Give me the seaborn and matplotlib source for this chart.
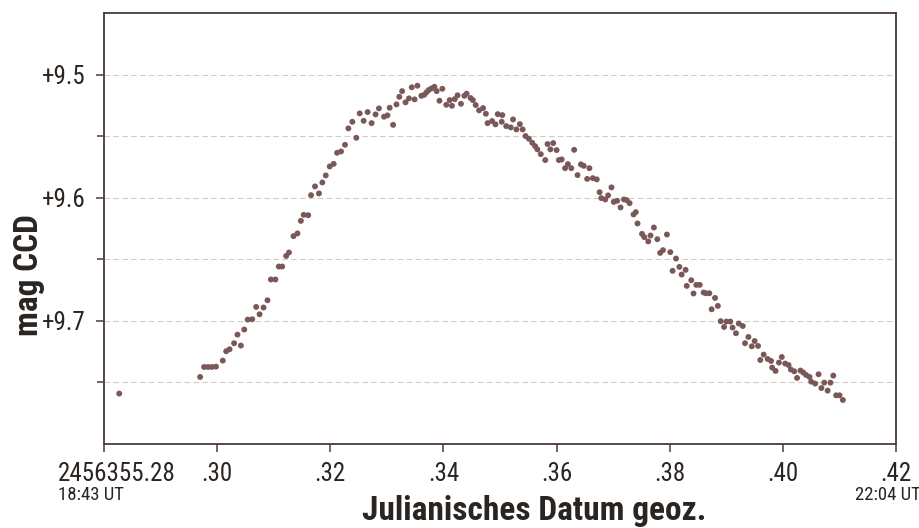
import matplotlib.pyplot as plt
import matplotlib.ticker as mticker
from matplotlib.transforms import ScaledTranslation
import pandas as pd
import seaborn as sns

sns.set_theme(style='white')
plt.rcParams['font.family'] = ['Roboto Condensed', 'Roboto', 'DejaVu Sans']

# Julian date (fraction after 2456355) and CCD magnitude
jd = [
    0.2827, 0.2970, 0.2977, 0.2984, 0.2991, 0.2998, 0.3010, 0.3016, 0.3022, 0.3030,
    0.3036, 0.3042, 0.3048, 0.3054, 0.3062, 0.3069, 0.3075, 0.3082, 0.3089, 0.3095,
    0.3103, 0.3109, 0.3115, 0.3122, 0.3127, 0.3135, 0.3142, 0.3148, 0.3153, 0.3161,
    0.3166, 0.3173, 0.3180, 0.3186, 0.3192, 0.3199, 0.3206, 0.3212, 0.3219, 0.3226,
    0.3232, 0.3239, 0.3246, 0.3252, 0.3259, 0.3266, 0.3273, 0.3280, 0.3286, 0.3295,
    0.3301, 0.3305, 0.3311, 0.3317, 0.3322, 0.3327, 0.3333, 0.3339, 0.3344, 0.3349,
    0.3354, 0.3361, 0.3366, 0.3370, 0.3374, 0.3379, 0.3384, 0.3388, 0.3393, 0.3398,
    0.3405, 0.3411, 0.3415, 0.3420, 0.3425, 0.3431, 0.3437, 0.3441, 0.3448, 0.3452,
    0.3457, 0.3463, 0.3470, 0.3475, 0.3478, 0.3486, 0.3492, 0.3496, 0.3503, 0.3504,
    0.3511, 0.3519, 0.3523, 0.3529, 0.3535, 0.3540, 0.3545, 0.3551, 0.3557, 0.3562,
    0.3566, 0.3572, 0.3580, 0.3584, 0.3589, 0.3594, 0.3600, 0.3604, 0.3609, 0.3615,
    0.3620, 0.3626, 0.3631, 0.3637, 0.3643, 0.3648, 0.3654, 0.3658, 0.3664, 0.3671,
    0.3676, 0.3679, 0.3686, 0.3691, 0.3697, 0.3701, 0.3707, 0.3713, 0.3719, 0.3724,
    0.3729, 0.3736, 0.3740, 0.3743, 0.3751, 0.3755, 0.3762, 0.3766, 0.3772, 0.3778,
    0.3783, 0.3788, 0.3795, 0.3801, 0.3805, 0.3811, 0.3817, 0.3821, 0.3828, 0.3830,
    0.3838, 0.3842, 0.3847, 0.3853, 0.3860, 0.3864, 0.3870, 0.3874, 0.3880, 0.3885,
    0.3890, 0.3896, 0.3900, 0.3907, 0.3911, 0.3917, 0.3922, 0.3929, 0.3933, 0.3939,
    0.3945, 0.3950, 0.3956, 0.3960, 0.3966, 0.3973, 0.3979, 0.3981, 0.3987, 0.3993,
    0.3998, 0.4004, 0.4010, 0.4014, 0.4020, 0.4025, 0.4031, 0.4036, 0.4041, 0.4047,
    0.4050, 0.4057, 0.4063, 0.4068, 0.4073, 0.4079, 0.4084, 0.4089, 0.4094, 0.4100,
    0.4106,
]
mag = [
    9.7590, 9.7455, 9.7374, 9.7374, 9.7374, 9.7371, 9.7322, 9.7246, 9.7230, 9.7181,
    9.7111, 9.7200, 9.7070, 9.6989, 9.6986, 9.6886, 9.6946, 9.6891, 9.6832, 9.6663,
    9.6663, 9.6558, 9.6558, 9.6472, 9.6444, 9.6311, 9.6289, 9.6187, 9.6138, 9.6141,
    9.5978, 9.5907, 9.5964, 9.5875, 9.5818, 9.5745, 9.5724, 9.5634, 9.5623, 9.5569,
    9.5436, 9.5382, 9.5512, 9.5314, 9.5374, 9.5303, 9.5393, 9.5322, 9.5273, 9.5341,
    9.5330, 9.5268, 9.5407, 9.5241, 9.5179, 9.5133, 9.5224, 9.5192, 9.5102, 9.5200,
    9.5089, 9.5171, 9.5163, 9.5143, 9.5124, 9.5111, 9.5098, 9.5133, 9.5211, 9.5114,
    9.5244, 9.5206, 9.5252, 9.5198, 9.5167, 9.5236, 9.5171, 9.5154, 9.5189, 9.5206,
    9.5246, 9.5289, 9.5271, 9.5317, 9.5393, 9.5376, 9.5403, 9.5320, 9.5382, 9.5328,
    9.5417, 9.5428, 9.5363, 9.5444, 9.5401, 9.5444, 9.5498, 9.5520, 9.5553, 9.5580,
    9.5606, 9.5645, 9.5693, 9.5563, 9.5606, 9.5555, 9.5612, 9.5693, 9.5688, 9.5759,
    9.5726, 9.5759, 9.5610, 9.5815, 9.5728, 9.5740, 9.5846, 9.5759, 9.5840, 9.5850,
    9.5954, 9.6002, 9.6013, 9.5980, 9.5915, 9.6033, 9.6024, 9.6078, 9.6013, 9.6019,
    9.6043, 9.6135, 9.6116, 9.6208, 9.6293, 9.6319, 9.6354, 9.6306, 9.6241, 9.6336,
    9.6447, 9.6425, 9.6298, 9.6441, 9.6593, 9.6493, 9.6561, 9.6623, 9.6585, 9.6715,
    9.6669, 9.6777, 9.6707, 9.6707, 9.6769, 9.6775, 9.6775, 9.6905, 9.6813, 9.6878,
    9.7002, 9.7049, 9.7005, 9.7005, 9.7054, 9.7100, 9.7021, 9.7041, 9.7181, 9.7130,
    9.7206, 9.7163, 9.7203, 9.7317, 9.7273, 9.7309, 9.7325, 9.7379, 9.7406, 9.7338,
    9.7293, 9.7346, 9.7358, 9.7395, 9.7409, 9.7463, 9.7403, 9.7419, 9.7439, 9.7455,
    9.7493, 9.7509, 9.7433, 9.7545, 9.7501, 9.7566, 9.7501, 9.7444, 9.7604, 9.7604,
    9.7642,
]

x_ticks = [0.28, 0.30, 0.32, 0.34, 0.36, 0.38, 0.40, 0.42]
x_labels = ['2456355.28', '.30', '.32', '.34', '.36', '.38', '.40', '.42']
y_ticks = [9.5, 9.6, 9.7]
y_labels = ['+9.5', '+9.6', '+9.7']
y_minor = [9.55, 9.65, 9.75]
ut_start = '18:43 UT'
ut_end = '22:04 UT'

df = pd.DataFrame({'jd': jd, 'mag': mag})

dot_color = '#7a5858'
frame_color = '#4a3b35'
text_color = '#2b2522'

fig = plt.figure(figsize=(9.2, 5.28), dpi=100)
ax = fig.add_axes([0.113, 0.159, 0.861, 0.816])

sns.scatterplot(data=df, x='jd', y='mag', ax=ax, color=dot_color, s=18,
                edgecolor='none', linewidth=0, zorder=3)

ax.set_xlim(0.28, 0.42)
ax.set_ylim(9.80, 9.45)

ax.set_xticks(x_ticks)
ax.set_xticklabels(x_labels)
ax.set_yticks(y_ticks)
ax.set_yticklabels(y_labels)
ax.yaxis.set_minor_locator(mticker.FixedLocator(y_minor))

ax.grid(axis='y', which='both', linestyle=(0, (5, 3)), color='#d3ccc8', linewidth=0.8)
ax.set_axisbelow(True)

for sp in ax.spines.values():
    sp.set_color(frame_color)
    sp.set_linewidth(1.3)

ax.tick_params(axis='both', which='both', bottom=True, left=True, direction='out',
               length=6, width=1.1, color=frame_color, labelsize=18,
               labelcolor=text_color, pad=7)
ax.tick_params(axis='y', which='minor', length=5)

# the long first label sits a bit right of its tick
first = ax.get_xticklabels()[0]
first.set_transform(first.get_transform() + ScaledTranslation(0.13, 0, fig.dpi_scale_trans))

ax.annotate(ut_start, xy=(0.28, 0), xycoords=('data', 'axes fraction'),
            xytext=(-33, -30), textcoords='offset points', ha='left', va='top',
            fontsize=13.5, color=text_color)
ax.annotate(ut_end, xy=(0.42, 0), xycoords=('data', 'axes fraction'),
            xytext=(18, -30), textcoords='offset points', ha='right', va='top',
            fontsize=13.5, color=text_color, annotation_clip=False)

ax.set_xlabel('Julianisches Datum geoz.', fontsize=24, fontweight='bold', color=text_color)
ax.xaxis.label.set_va('baseline')
ax.xaxis.set_label_coords(0.543, -0.177)
ax.set_ylabel('mag CCD', fontsize=24, fontweight='bold', color=text_color)
ax.yaxis.set_label_coords(-0.075, 0.393)

fig.savefig('out.png', dpi=100)
plt.close(fig)
